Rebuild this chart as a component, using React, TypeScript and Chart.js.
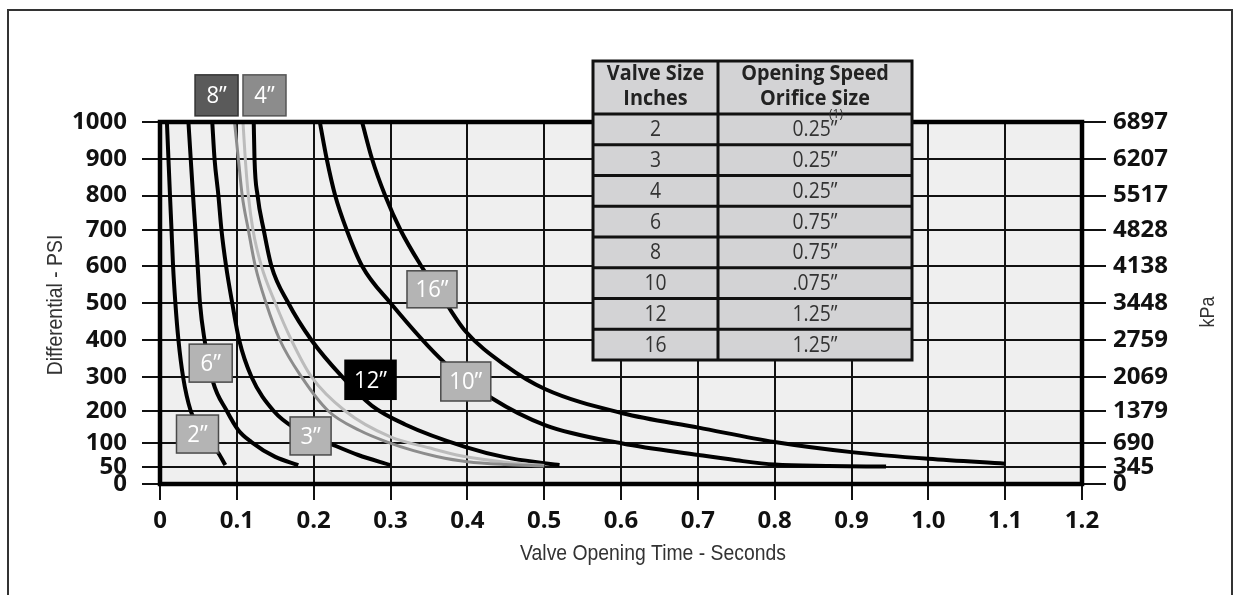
import React, { useEffect, useRef } from 'react';
import { Chart, registerables, LinearScale } from 'chart.js';

// ---------------- data ----------------
const X_TICKS = [0, 0.1, 0.2, 0.3, 0.4, 0.5, 0.6, 0.7, 0.8, 0.9, 1.0, 1.1, 1.2];
const X_TICK_LABELS = ['0', '0.1', '0.2', '0.3', '0.4', '0.5', '0.6', '0.7', '0.8', '0.9', '1.0', '1.1', '1.2'];
const PSI_TICKS = [0, 50, 100, 200, 300, 400, 500, 600, 700, 800, 900, 1000];
const KPA_TICKS = [0, 345, 690, 1379, 2069, 2759, 3448, 4138, 4828, 5517, 6207, 6897];

// valve opening time (s) vs differential (psi), per valve size
const T_2IN = [0.009, 0.011, 0.013, 0.015, 0.017, 0.020, 0.024, 0.030, 0.040, 0.050, 0.062, 0.076, 0.085];
const P_2IN = [1000, 900, 800, 700, 600, 500, 400, 300, 200, 153, 108, 79, 54];

const T_6IN = [0.037, 0.040, 0.043, 0.046, 0.049, 0.052, 0.058, 0.069, 0.087, 0.102, 0.119, 0.150, 0.180];
const P_6IN = [1000, 900, 800, 700, 600, 500, 400, 285, 200, 140, 103, 71, 54];

const T_3IN = [0.068, 0.071, 0.076, 0.080, 0.086, 0.094, 0.103, 0.119, 0.148, 0.175, 0.224, 0.258, 0.300];
const P_3IN = [1000, 900, 800, 700, 600, 500, 400, 300, 200, 147, 97, 75, 54];

const T_8IN = [0.097, 0.102, 0.107, 0.115, 0.124, 0.138, 0.156, 0.184, 0.219, 0.260, 0.297, 0.330, 0.360, 0.400, 0.450, 0.500];
const P_8IN = [1000, 900, 800, 700, 600, 500, 400, 300, 200, 139, 102, 84, 72, 61, 55, 52];

const T_4IN = [0.108, 0.111, 0.115, 0.121, 0.132, 0.150, 0.171, 0.197, 0.241, 0.300, 0.350, 0.393, 0.450, 0.500];
const P_4IN = [1000, 900, 800, 700, 600, 500, 400, 300, 200, 119, 90, 73, 60, 53];

const T_12IN = [0.122, 0.123, 0.127, 0.135, 0.145, 0.167, 0.197, 0.237, 0.276, 0.319, 0.397, 0.450, 0.500, 0.520];
const P_12IN = [1000, 900, 800, 700, 600, 500, 400, 300, 215, 158, 92, 70, 58, 54];

const T_10IN = [0.208, 0.217, 0.228, 0.243, 0.263, 0.300, 0.371, 0.432, 0.501, 0.602, 0.701, 0.750, 0.800, 0.870, 0.945];
const P_10IN = [1000, 900, 800, 700, 600, 500, 337, 237, 156, 99, 75, 64, 55, 52, 51];

const T_16IN = [0.263, 0.276, 0.293, 0.313, 0.340, 0.372, 0.397, 0.450, 0.501, 0.602, 0.701, 0.800, 0.900, 1.000, 1.100];
const P_16IN = [1000, 900, 800, 700, 600, 500, 425, 330, 264, 193, 148, 103, 81, 67, 57];

const TABLE_HEAD_SIZE = ['Valve Size', 'Inches'];
const TABLE_HEAD_ORIFICE = ['Opening Speed', 'Orifice Size'];
const TABLE_SIZES = ['2', '3', '4', '6', '8', '10', '12', '16'];
const TABLE_ORIFICES = ['0.25\u201D', '0.25\u201D', '0.25\u201D', '0.75\u201D', '0.75\u201D', '.075\u201D', '1.25\u201D', '1.25\u201D'];

// ---------------- axis geometry (the printed PSI axis is not evenly spaced) ----------------
// fraction of the plot height at which each tick of the vertical axes sits
const TICK_FRACTIONS = [0, 17, 41, 73, 107.3, 144, 181, 218, 254, 288.5, 325, 362].map((v) => v / 362);
const AXIS_KNOTS: Record<string, number[]> = { y: PSI_TICKS, y2: KPA_TICKS };

function interp(v: number, xs: number[], ys: number[]): number {
  const n = xs.length;
  let i = 0;
  if (v <= xs[0]) i = 0;
  else if (v >= xs[n - 1]) i = n - 2;
  else {
    while (i < n - 2 && v > xs[i + 1]) i++;
  }
  const x0 = xs[i], x1 = xs[i + 1];
  return ys[i] + ((v - x0) / (x1 - x0)) * (ys[i + 1] - ys[i]);
}

class PiecewiseScale extends (LinearScale as any) {
  static id = 'piecewise';
  static defaults = (LinearScale as any).defaults;
  getPixelForValue(value: number) {
    const knots = AXIS_KNOTS[(this as any).id] || PSI_TICKS;
    return (this as any).getPixelForDecimal(interp(value, knots, TICK_FRACTIONS));
  }
  getValueForPixel(pixel: number) {
    const knots = AXIS_KNOTS[(this as any).id] || PSI_TICKS;
    return interp((this as any).getDecimalForPixel(pixel), TICK_FRACTIONS, knots);
  }
}

Chart.register(...registerables);
Chart.register(PiecewiseScale as any);

// ---------------- styling / layout ----------------
const SERIES = [
  { t: T_8IN, p: P_8IN, color: '#8c8c8c', width: 3 },
  { t: T_4IN, p: P_4IN, color: '#bcbcbc', width: 3 },
  { t: T_2IN, p: P_2IN, color: '#000000', width: 4 },
  { t: T_6IN, p: P_6IN, color: '#000000', width: 4 },
  { t: T_3IN, p: P_3IN, color: '#000000', width: 4 },
  { t: T_12IN, p: P_12IN, color: '#000000', width: 4 },
  { t: T_10IN, p: P_10IN, color: '#000000', width: 4 },
  { t: T_16IN, p: P_16IN, color: '#000000', width: 4 },
];

// label boxes, anchored in data coordinates (seconds, psi)
const LABEL_BOXES = [
  { text: '8\u201D', t: 0.0736, p: 1072, w: 43, h: 41, fill: '#5a5a5a', stroke: '#333333', color: '#ffffff' },
  { text: '4\u201D', t: 0.136, p: 1072, w: 43, h: 41, fill: '#8c8c8c', stroke: '#555555', color: '#ffffff' },
  { text: '16\u201D', t: 0.354, p: 537, w: 50, h: 37, fill: '#b4b4b4', stroke: '#4a4a4a', color: '#ffffff' },
  { text: '6\u201D', t: 0.066, p: 337, w: 43, h: 38, fill: '#b4b4b4', stroke: '#4a4a4a', color: '#ffffff' },
  { text: '2\u201D', t: 0.0488, p: 128, w: 42, h: 38, fill: '#b4b4b4', stroke: '#4a4a4a', color: '#ffffff' },
  { text: '3\u201D', t: 0.196, p: 122, w: 41, h: 38, fill: '#b4b4b4', stroke: '#4a4a4a', color: '#ffffff' },
  { text: '12\u201D', t: 0.274, p: 291, w: 51, h: 39, fill: '#000000', stroke: '#000000', color: '#ffffff' },
  { text: '10\u201D', t: 0.398, p: 286, w: 50, h: 39, fill: '#b4b4b4', stroke: '#4a4a4a', color: '#ffffff' },
];

const TBL = { left: 593, mid: 718, right: 912, top: 61, head: 114, bottom: 360 };

function drawText(ctx: CanvasRenderingContext2D, text: string, x: number, y: number, rot: number, sx: number) {
  ctx.save();
  ctx.translate(x, y);
  if (rot) ctx.rotate(rot);
  ctx.scale(sx, 1);
  ctx.fillText(text, 0, 0);
  ctx.restore();
}

const decor = {
  id: 'decor',
  beforeDraw(chart: any) {
    const { ctx, chartArea: a } = chart;
    ctx.save();
    ctx.fillStyle = '#ffffff';
    ctx.fillRect(0, 0, chart.width, chart.height);
    ctx.fillStyle = '#efefef';
    ctx.fillRect(a.left, a.top, a.right - a.left, a.bottom - a.top);
    ctx.restore();
  },
  afterDatasetsDraw(chart: any) {
    const { ctx, chartArea: a } = chart;
    const xs = chart.scales.x;
    const ys = chart.scales.y;
    ctx.save();

    // plot frame
    ctx.strokeStyle = '#000';
    ctx.lineWidth = 4.5;
    ctx.strokeRect(a.left, a.top, a.right - a.left, a.bottom - a.top);

    // curve label boxes
    for (const b of LABEL_BOXES) {
      const cx = xs.getPixelForValue(b.t);
      const cy = ys.getPixelForValue(b.p);
      ctx.fillStyle = b.fill;
      ctx.fillRect(cx - b.w / 2, cy - b.h / 2, b.w, b.h);
      ctx.strokeStyle = b.stroke;
      ctx.lineWidth = 1.5;
      ctx.strokeRect(cx - b.w / 2, cy - b.h / 2, b.w, b.h);
      ctx.fillStyle = b.color;
      ctx.font = '24px "Open Sans"';
      ctx.textAlign = 'center';
      ctx.textBaseline = 'middle';
      drawText(ctx, b.text, cx, cy + 1, 0, 0.92);
    }

    // table
    const rowH = (TBL.bottom - TBL.head) / TABLE_SIZES.length;
    ctx.fillStyle = '#d3d3d5';
    ctx.fillRect(TBL.left, TBL.top, TBL.right - TBL.left, TBL.bottom - TBL.top);
    ctx.strokeStyle = '#111';
    ctx.lineWidth = 3;
    ctx.beginPath();
    ctx.moveTo(TBL.mid, TBL.top);
    ctx.lineTo(TBL.mid, TBL.bottom);
    for (let i = 0; i < TABLE_SIZES.length; i++) {
      const y = TBL.head + i * rowH;
      ctx.moveTo(TBL.left, y);
      ctx.lineTo(TBL.right, y);
    }
    ctx.stroke();
    ctx.strokeRect(TBL.left, TBL.top, TBL.right - TBL.left, TBL.bottom - TBL.top);

    const c1 = (TBL.left + TBL.mid) / 2;
    const c2 = (TBL.mid + TBL.right) / 2;
    ctx.textAlign = 'center';
    ctx.textBaseline = 'alphabetic';
    ctx.fillStyle = '#222';
    ctx.font = 'bold 22px "Open Sans"';
    drawText(ctx, TABLE_HEAD_SIZE[0], c1, 80, 0, 0.9);
    drawText(ctx, TABLE_HEAD_SIZE[1], c1, 105, 0, 0.9);
    drawText(ctx, TABLE_HEAD_ORIFICE[0], c2, 80, 0, 0.9);
    drawText(ctx, TABLE_HEAD_ORIFICE[1], c2, 105, 0, 0.9);

    ctx.fillStyle = '#333';
    ctx.font = '21px "Open Sans"';
    ctx.textBaseline = 'middle';
    for (let i = 0; i < TABLE_SIZES.length; i++) {
      const cy = TBL.head + (i + 0.5) * rowH + 1;
      drawText(ctx, TABLE_SIZES[i], c1, cy, 0, 0.92);
      drawText(ctx, TABLE_ORIFICES[i], c2, cy, 0, 0.92);
    }
    ctx.font = '12px "Open Sans"';
    drawText(ctx, '(1)', 836, 115, 0, 1);

    // axis titles
    ctx.fillStyle = '#333';
    ctx.font = '22px "Liberation Sans"';
    ctx.textAlign = 'center';
    ctx.textBaseline = 'middle';
    drawText(ctx, 'Differential - PSI', 56, 305, -Math.PI / 2, 0.88);
    drawText(ctx, 'Valve Opening Time - Seconds', 653, 554, 0, 0.88);
    ctx.font = '20px "Liberation Sans"';
    drawText(ctx, 'kPa', 1208, 312, -Math.PI / 2, 0.9);

    // outer frame
    ctx.strokeStyle = '#333';
    ctx.lineWidth = 2;
    ctx.strokeRect(8, 10, 1224, 640);

    ctx.restore();
  },
};

export default function App() {
  const ref = useRef<HTMLCanvasElement>(null);

  useEffect(() => {
    const canvas = ref.current;
    if (!canvas) return;
    const datasets = SERIES.map((s) => ({
      data: s.t.map((t, i) => ({ x: t, y: s.p[i] })),
      borderColor: s.color,
      borderWidth: s.width,
      pointRadius: 0,
      fill: false,
      cubicInterpolationMode: 'monotone' as const,
      yAxisID: 'y',
    }));
    const tickFont = { family: 'Open Sans', weight: 'bold' as const, size: 24 };
    const chart = new Chart(canvas, {
      type: 'line',
      data: { datasets },
      options: {
        animation: false,
        responsive: false,
        events: [],
        layout: { padding: { top: 122, left: 0, right: 0, bottom: 0 } },
        plugins: { legend: { display: false }, tooltip: { enabled: false }, title: { display: false } },
        scales: {
          x: {
            type: 'linear',
            min: 0,
            max: 1.2,
            afterBuildTicks: (s: any) => { s.ticks = X_TICKS.map((v) => ({ value: v })); },
            afterFit: (s: any) => { s.height = 111; },
            ticks: {
              autoSkip: false,
              maxRotation: 0,
              padding: 7,
              color: '#111',
              font: { family: 'Open Sans', weight: 'bold', size: 24 },
              callback: (_v: any, i: number) => X_TICK_LABELS[i],
            },
            grid: { color: '#111', lineWidth: 2, tickLength: 16 },
            border: { display: false },
          },
          y: {
            type: 'piecewise',
            position: 'left',
            min: 0,
            max: 1000,
            afterBuildTicks: (s: any) => { s.ticks = PSI_TICKS.map((v) => ({ value: v })); },
            afterFit: (s: any) => { s.width = 160; },
            ticks: { autoSkip: false, padding: 15, color: '#111', font: tickFont, callback: (v: any) => String(v) },
            grid: { color: '#111', lineWidth: 2, tickLength: 18 },
            border: { display: false },
          },
          y2: {
            type: 'piecewise',
            position: 'right',
            min: 0,
            max: 6897,
            afterBuildTicks: (s: any) => { s.ticks = KPA_TICKS.map((v) => ({ value: v })); },
            afterFit: (s: any) => { s.width = 154; },
            ticks: { autoSkip: false, padding: 7, color: '#111', font: tickFont, callback: (v: any) => String(v) },
            grid: { drawOnChartArea: false, color: '#111', lineWidth: 2, tickLength: 24 },
            border: { display: false },
          },
        },
      } as any,
      plugins: [decor],
    });
    return () => chart.destroy();
  }, []);

  return (
    <div style={{ position: 'fixed', left: 0, top: 0, width: 1236, height: 595, overflow: 'hidden', background: '#fff' }}>
      <canvas ref={ref} width={1236} height={595} style={{ display: 'block', width: 1236, height: 595 }} />
    </div>
  );
}
